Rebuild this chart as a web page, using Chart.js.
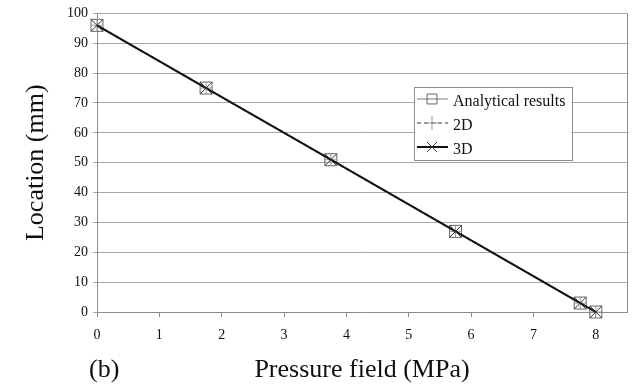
<!DOCTYPE html>
<html>
<head>
<meta charset="utf-8">
<script src="https://cdn.jsdelivr.net/npm/chart.js@4/dist/chart.umd.min.js"></script>
<style>
  body { margin: 0; background: #fff; }
</style>
</head>
<body>
<canvas id="grafico" width="642" height="389"></canvas>
<script>
// Datos
const presion = [0, 1.75, 3.75, 5.75, 7.75, 8];
const analitico = [96, 75, 51, 27, 3, 0];
const sim2D = [96, 75, 51, 27, 3, 0];
const sim3D = [96, 75, 51, 27, 3, 0];
const ticksX = [0, 1, 2, 3, 4, 5, 6, 7, 8];
const etiquetas = ["Analytical results", "2D", "3D"];

const FUENTE = "'Liberation Serif', 'Times New Roman', serif";

function puntos(valores) {
    return presion.map((p, i) => ({ x: p, y: valores[i] }));
}

// Leyenda dibujada dentro del área del gráfico, como en la figura
const leyendaPlugin = {
    id: 'leyendaCaja',
    afterDraw(chart) {
        const ctx = chart.ctx;
        const x0 = 414, y0 = 87, w = 158, h = 73;
        ctx.save();
        ctx.fillStyle = '#fff';
        ctx.fillRect(x0, y0, w, h);
        ctx.strokeStyle = '#8c8c8c';
        ctx.lineWidth = 1;
        ctx.strokeRect(x0 + 0.5, y0 + 0.5, w, h);

        chart.data.datasets.forEach((ds, i) => {
            const y = y0 + 12 + i * 24;
            ctx.save();
            ctx.strokeStyle = ds.borderColor;
            ctx.lineWidth = ds.borderWidth;
            ctx.setLineDash(ds.borderDash || []);
            ctx.beginPath();
            ctx.moveTo(x0 + 3, y);
            ctx.lineTo(x0 + 34, y);
            ctx.stroke();
            ctx.setLineDash([]);
            ctx.strokeStyle = ds.pointBorderColor;
            ctx.fillStyle = 'rgba(0,0,0,0)';
            ctx.lineWidth = ds.pointBorderWidth;
            Chart.helpers.drawPoint(ctx, {
                pointStyle: ds.pointStyle,
                radius: 7,
                rotation: 0,
                borderWidth: ds.pointBorderWidth
            }, x0 + 18, y);
            ctx.restore();

            ctx.fillStyle = '#111';
            ctx.font = "16px " + FUENTE;
            ctx.textBaseline = 'middle';
            ctx.fillText(ds.label, x0 + 39, y + 3);
        });

        // marco derecho del área
        const a = chart.chartArea;
        ctx.strokeStyle = '#8c8c8c';
        ctx.beginPath();
        ctx.moveTo(a.right + 0.5, a.top);
        ctx.lineTo(a.right + 0.5, a.bottom);
        ctx.stroke();

        ctx.fillStyle = '#111';
        ctx.font = "26px " + FUENTE;
        ctx.textBaseline = 'middle';
        ctx.fillText("(b)", 89, 370);
        ctx.restore();
    }
};

new Chart(document.getElementById('grafico').getContext('2d'), {
    type: 'line',
    data: {
        datasets: [
            {
                label: etiquetas[0],
                data: puntos(analitico),
                borderColor: '#7a7a7a',
                borderWidth: 1,
                pointStyle: 'rect',
                pointRadius: 8.5,
                pointBorderColor: '#666',
                pointBorderWidth: 1,
                pointBackgroundColor: 'rgba(255,255,255,0)',
                clip: false,
                order: 3
            },
            {
                label: etiquetas[1],
                data: puntos(sim2D),
                borderColor: '#9a9a9a',
                borderWidth: 2,
                borderDash: [4, 3],
                pointStyle: 'cross',
                pointRadius: 6,
                pointBorderColor: '#999',
                pointBorderWidth: 1,
                clip: false,
                order: 2
            },
            {
                label: etiquetas[2],
                data: puntos(sim3D),
                borderColor: '#111',
                borderWidth: 2,
                pointStyle: 'crossRot',
                pointRadius: 8.5,
                pointBorderColor: '#333',
                pointBorderWidth: 1,
                clip: false,
                order: 1
            }
        ]
    },
    options: {
        responsive: false,
        animation: false,
        layout: { padding: { top: 9, right: 15, left: 0, bottom: 0 } },
        plugins: {
            legend: { display: false },
            tooltip: { enabled: false }
        },
        scales: {
            x: {
                type: 'linear',
                min: 0,
                max: 8.5,
                afterBuildTicks: (scale) => { scale.ticks = ticksX.map(v => ({ value: v })); },
                afterFit: (scale) => { scale.height = 77; },
                grid: { drawOnChartArea: false, color: '#8c8c8c', tickLength: 5 },
                border: { color: '#8c8c8c' },
                ticks: {
                    color: '#111',
                    padding: 10,
                    font: { family: FUENTE, size: 14 }
                },
                title: {
                    display: true,
                    text: 'Pressure field (MPa)',
                    color: '#111',
                    font: { family: FUENTE, size: 26 },
                    padding: { top: 0, bottom: 3 }
                }
            },
            y: {
                min: 0,
                max: 100,
                afterFit: (scale) => { scale.width = 97; },
                grid: { color: '#a6a6a6', tickLength: 4 },
                border: { color: '#8c8c8c' },
                ticks: {
                    stepSize: 10,
                    color: '#111',
                    padding: 5,
                    font: { family: FUENTE, size: 14 }
                },
                title: {
                    display: true,
                    text: 'Location (mm)',
                    color: '#111',
                    font: { family: FUENTE, size: 26 },
                    padding: { top: 21, bottom: 0 }
                }
            }
        }
    },
    plugins: [leyendaPlugin]
});
</script>
</body>
</html>
